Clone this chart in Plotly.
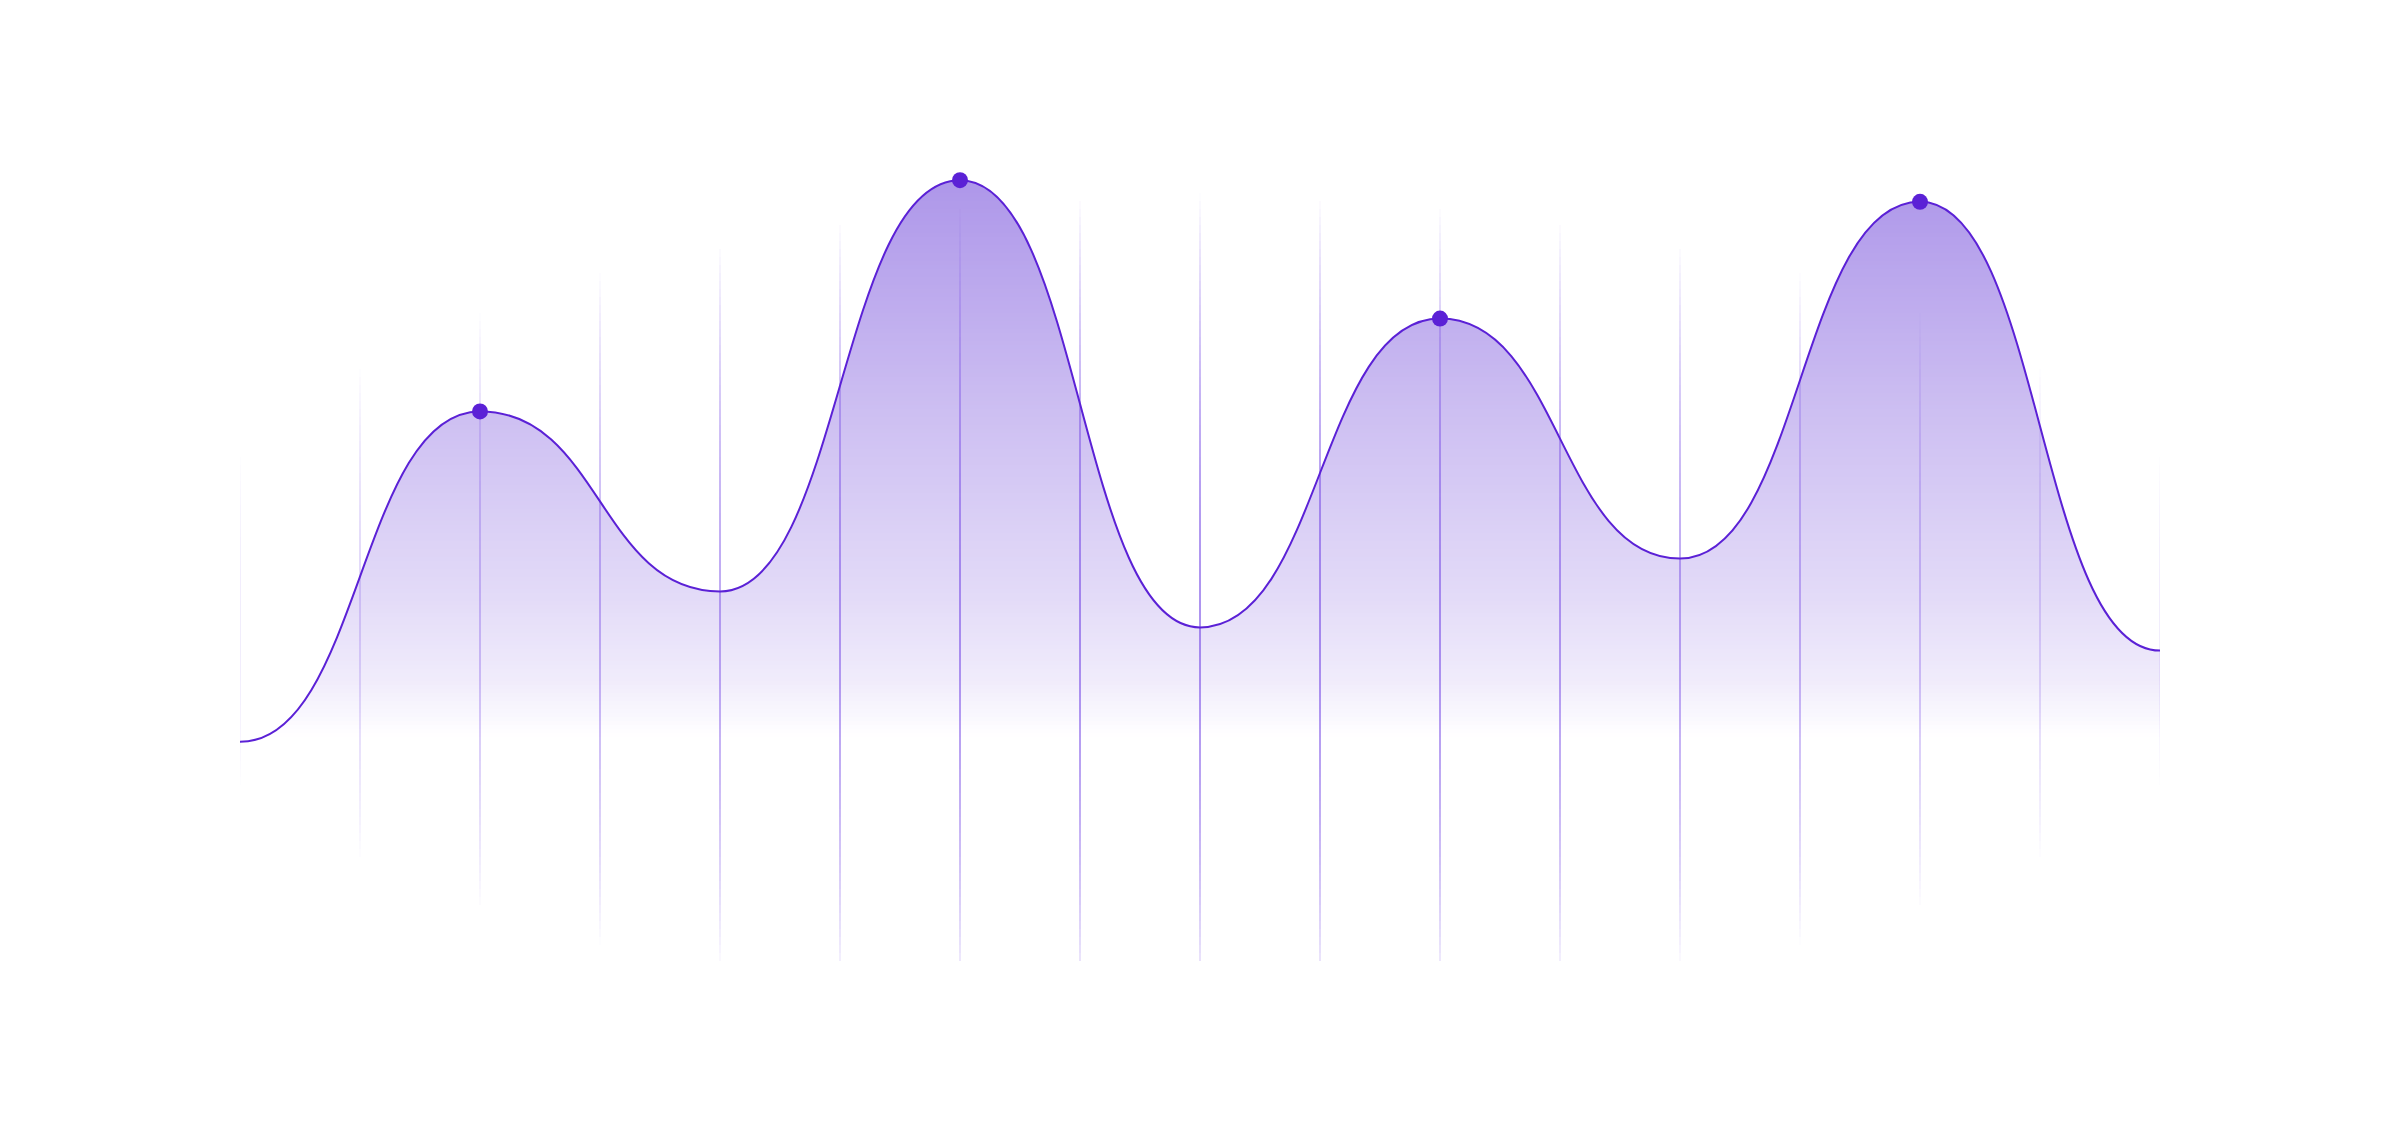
import numpy as np
import plotly.graph_objects as go

# ---- data ----
x_vals = [0, 1, 2, 3, 4, 5, 6, 7, 8]
y_vals = [27.4, 68.7, 46.2, 97.6, 41.7, 80.3, 50.3, 94.9, 38.8]
peak_flags = [0, 1, 0, 1, 0, 1, 0, 1, 0]

# ---- style ----
LINE_COLOR = "#5b21d6"
FILL_RGB = (120, 80, 220)
FILL_A0 = 0.62
GRID_STEP = 0.5
Y_MIN, Y_MAX = 0, 110
HANDLE = 0.5  # horizontal bezier handle length, fraction of x spacing


def curve_path(xs, ys, close_to=None):
    parts = [f"M {xs[0]},{ys[0]}"]
    for i in range(1, len(xs)):
        h = (xs[i] - xs[i - 1]) * HANDLE
        parts.append(f"C {xs[i-1]+h},{ys[i-1]} {xs[i]-h},{ys[i]} {xs[i]},{ys[i]}")
    if close_to is not None:
        parts.append(f"L {xs[-1]},{close_to} L {xs[0]},{close_to} Z")
    return " ".join(parts)


shapes = []

# 1) area fill (solid), faded by white bands -> vertical gradient
shapes.append(dict(type="path", xref="x", yref="y", layer="below",
                   path=curve_path(x_vals, y_vals, close_to=Y_MIN),
                   fillcolor=f"rgba({FILL_RGB[0]},{FILL_RGB[1]},{FILL_RGB[2]},{FILL_A0})",
                   line=dict(width=0)))

grad_y = [0, 28, 35, 46, 69, 98, 110]
grad_a = [0.0, 0.0, 0.11, 0.21, 0.37, 0.60, 0.62]
band = 0.5
for y0 in np.arange(Y_MIN, 100, band):
    a_eff = float(np.interp(y0 + band / 2, grad_y, grad_a))
    w = max(0.0, min(1.0, 1 - a_eff / FILL_A0))
    if w <= 0.002:
        continue
    shapes.append(dict(type="rect", xref="x", yref="y", layer="below",
                       x0=x_vals[0] - 0.01, x1=x_vals[-1] + 0.01, y0=y0, y1=y0 + band,
                       fillcolor=f"rgba(255,255,255,{w:.4f})", line=dict(width=0)))

# 2) fading vertical grid lines (soft elliptical mask)
cx, ax_ = 4.0, 4.4
cy, b_up, b_down = 41.4, 54.6, 48.0
for gx in np.arange(x_vals[0], x_vals[-1] + 1e-9, GRID_STEP):
    for y0 in np.arange(0, 106, 1.0):
        ym = y0 + 0.5
        b = b_up if ym > cy else b_down
        e = 1 - ((gx - cx) / ax_) ** 2 - ((ym - cy) / b) ** 2
        if e <= 0:
            continue
        a = 0.55 * e
        if a < 0.01:
            continue
        shapes.append(dict(type="line", xref="x", yref="y", layer="below",
                           x0=gx, x1=gx, y0=y0, y1=y0 + 1.0,
                           line=dict(color=f"rgba(108,60,228,{a:.3f})", width=2)))

# 3) the curve
shapes.append(dict(type="path", xref="x", yref="y", layer="below",
                   path=curve_path(x_vals, y_vals),
                   line=dict(color=LINE_COLOR, width=2)))

fig = go.Figure()
px_ = [x for x, f in zip(x_vals, peak_flags) if f]
py_ = [y for y, f in zip(y_vals, peak_flags) if f]
fig.add_trace(go.Scatter(
    x=px_, y=py_, mode="markers",
    marker=dict(size=16, color=LINE_COLOR, line=dict(width=0)),
    hoverinfo="skip", showlegend=False,
))

fig.update_layout(
    width=2400, height=1134,
    margin=dict(l=232, r=248, t=73, b=181),
    paper_bgcolor="white", plot_bgcolor="white",
    xaxis=dict(range=[x_vals[0], x_vals[-1]], visible=False, showgrid=False, zeroline=False),
    yaxis=dict(range=[Y_MIN, Y_MAX], visible=False, showgrid=False, zeroline=False),
    shapes=shapes,
    showlegend=False,
)

fig.write_html("out.html")
